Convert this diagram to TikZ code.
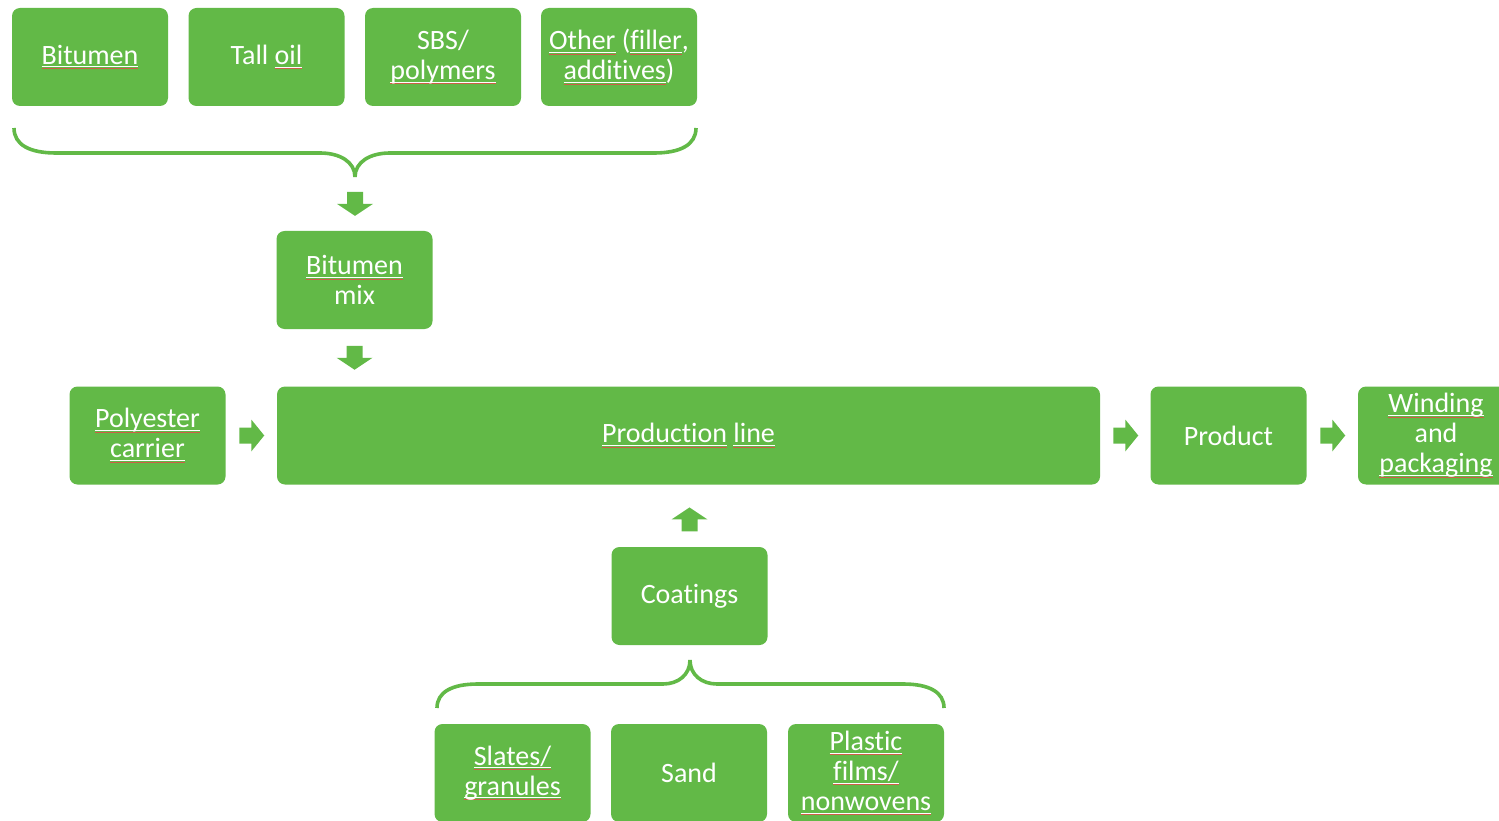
\documentclass[tikz,border=0pt]{standalone}
\usepackage{fontspec}
\setmainfont[Ligatures=NoCommon]{Carlito}
\usetikzlibrary{calc}
\definecolor{gr}{RGB}{98,185,71}
\definecolor{splred}{RGB}{205,95,70}
\newcommand{\spl}[1]{\setbox0=\hbox{#1}\rlap{\color{splred}\rule[-4.6pt]{\wd0}{0.7pt}}\rlap{\rule[-3pt]{\wd0}{0.9pt}}\box0\relax}
\begin{document}
\begin{tikzpicture}[x=1pt,y=-1pt,
  box/.style={rectangle,rounded corners=8pt,fill=gr,text=white,minimum width=156pt,minimum height=98pt,inner sep=0pt,align=center,font=\fontsize{28}{30}\selectfont},
  brace/.style={draw=gr,line width=3.6pt},
  pics/darr/.style={code={\fill[gr] (-8,-12) -- (8,-12) -- (8,0) -- (18,0) -- (0,12) -- (-18,0) -- (-8,0) -- cycle;}},
  pics/uarr/.style={code={\fill[gr] (-8,12) -- (8,12) -- (8,0) -- (18,0) -- (0,-12) -- (-18,0) -- (-8,0) -- cycle;}},
  pics/rarr/.style={code={\fill[gr] (-12,-8) -- (0,-8) -- (0,-16) -- (13,0) -- (0,16) -- (0,8) -- (-12,8) -- cycle;}}
]
\useasboundingbox (0,0) rectangle (1499,821);
% top inputs
\node[box] (bit) at (90,57) {\spl{Bitumen}};
\node[box] (tall) at (266.5,57) {Tall \spl{oil}};
\node[box] (sbs) at (443,57) {SBS/\\\spl{polymers}};
\node[box] (other) at (619,57) {\spl{Other} (\spl{filler},\\\spl{additives})};
% top brace
\coordinate (btip) at (355,177);
\draw[brace] (14,128) .. controls (14,145) and (30,153) .. (56,153) -- (320,153) .. controls (340,153) and (355,162) .. (btip);
\draw[brace] (696,128) .. controls (696,145) and (680,153) .. (654,153) -- (390,153) .. controls (370,153) and (355,162) .. (btip);
% bitumen mix
\node[box] (mix) at (354.5,280) {\spl{Bitumen}\\mix};
\pic at ($(btip)!0.5!(btip|-mix.north)$) {darr};
% main row
\node[box] (poly) at (147.5,435.5) {\spl{Polyester}\\\spl{carrier}};
\node[box,minimum width=823pt] (prod) at (688.5,435.5) {\spl{Production} \spl{line}};
\node[box] (product) at (1228.5,435.5) {Product};
\node[box] (wind) at (1436,435.5) {\spl{Winding}\\and\\\spl{packaging}};
\pic at ($(mix.south)!0.5!(mix.south|-prod.north)$) {darr};
\pic at ($(poly.east)!0.5!(prod.west)$) {rarr};
\pic at ($(prod.east)!0.5!(product.west)$) {rarr};
\pic at ($(product.east)!0.5!(wind.west)$) {rarr};
% coatings
\node[box] (coat) at (689.5,596) {Coatings};
\pic at ($(coat.north|-prod.south)!0.56!(coat.north)$) {uarr};
% bottom brace
\coordinate (ctip) at (690,660);
\draw[brace] (437,708) .. controls (437,692) and (452,684) .. (478,684) -- (663,684) .. controls (678,684) and (690,675) .. (ctip);
\draw[brace] (944,708) .. controls (944,692) and (929,684) .. (903,684) -- (717,684) .. controls (702,684) and (690,675) .. (ctip);
% bottom inputs
\node[box] (slates) at (512.5,773) {\spl{Slates/}\\\spl{granules}};
\node[box] (sand) at (689,773) {Sand};
\node[box] (plastic) at (866,773) {\spl{Plastic}\\\spl{films/}\\\spl{nonwovens}};
\end{tikzpicture}
\end{document}
